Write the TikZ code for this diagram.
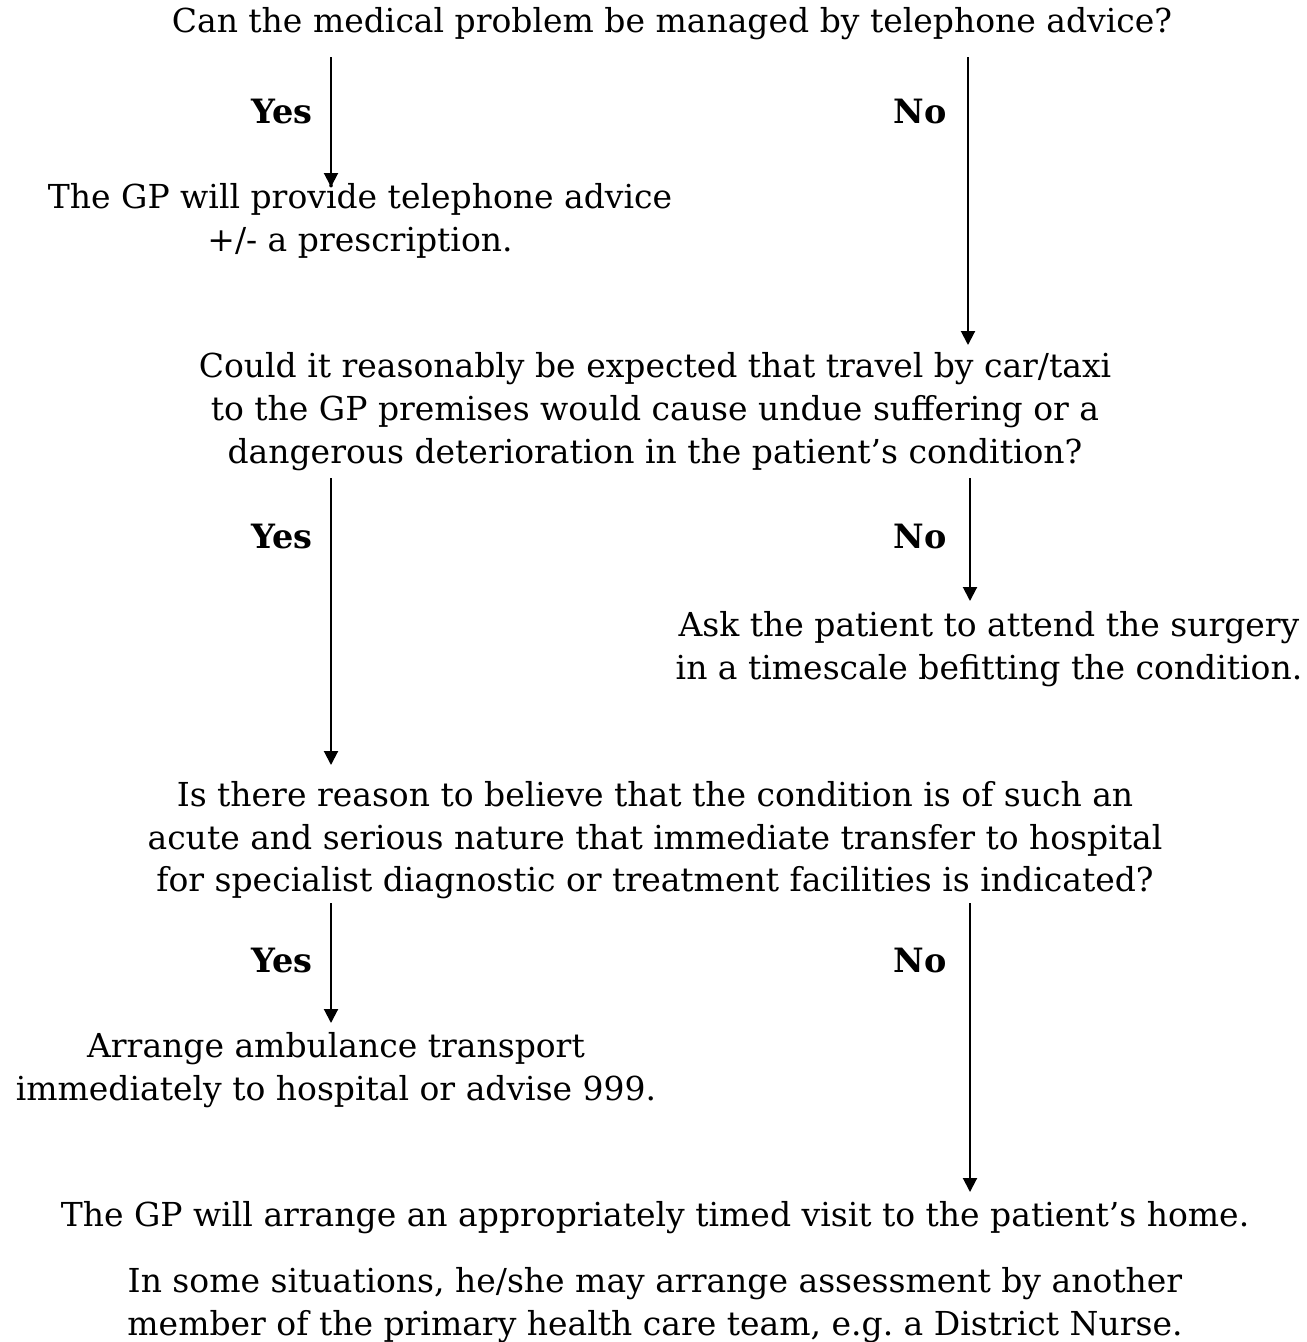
\documentclass[tikz,border=0pt]{standalone}
\usepackage{fontspec}
\setmainfont{DejaVu Serif}
\usetikzlibrary{arrows.meta}
\begin{document}
\begin{tikzpicture}[x=1pt,y=-1pt,
  txt/.style={anchor=base,inner sep=0pt,font=\fontsize{33}{43}\selectfont},
  lbl/.style={anchor=base,inner sep=0pt,font=\fontsize{33.5}{43}\selectfont\bfseries},
  arr/.style={line width=2pt,-{Triangle[width=14pt,length=14pt]}}]
\useasboundingbox[fill=white] (0,0) rectangle (1307,1342);
\node[txt] (q1) at (672,32) {Can the medical problem be managed by telephone advice?};
\node[txt] (a1a) at (360,208) {The GP will provide telephone advice};
\node[txt] (a1b) at (360,251) {+/- a prescription.};
\node[txt] (q2a) at (655,377) {Could it reasonably be expected that travel by car/taxi};
\node[txt] (q2b) at (655,420) {to the GP premises would cause undue suffering or a};
\node[txt] (q2c) at (655,463) {dangerous deterioration in the patient’s condition?};
\node[txt] (a2a) at (989,636) {Ask the patient to attend the surgery};
\node[txt] (a2b) at (989,679) {in a timescale befitting the condition.};
\node[txt] (q3a) at (655,806) {Is there reason to believe that the condition is of such an};
\node[txt] (q3b) at (655,849) {acute and serious nature that immediate transfer to hospital};
\node[txt] (q3c) at (655,891) {for specialist diagnostic or treatment facilities is indicated?};
\node[txt] (a3a) at (336,1057) {Arrange ambulance transport};
\node[txt] (a3b) at (336,1100) {immediately to hospital or advise 999.};
\node[txt] (a4) at (655,1226) {The GP will arrange an appropriately timed visit to the patient’s home.};
\node[txt] (n1) at (655,1292) {In some situations, he/she may arrange assessment by another};
\node[txt] (n2) at (655,1335) {member of the primary health care team, e.g.\ a District Nurse.};
\node[lbl] (y1) at (282,123) {Yes};
\node[lbl] (no1) at (920,123) {No};
\node[lbl] (y2) at (282,548) {Yes};
\node[lbl] (no2) at (920,548) {No};
\node[lbl] (y3) at (282,972) {Yes};
\node[lbl] (no3) at (920,972) {No};
\coordinate (s1) at (331,57); \coordinate (e1) at (331,187);
\coordinate (s2) at (968,57); \coordinate (e2) at (968,345);
\coordinate (s3) at (331,478); \coordinate (e3) at (331,765);
\coordinate (s4) at (970,478); \coordinate (e4) at (970,601);
\coordinate (s5) at (331,903); \coordinate (e5) at (331,1023);
\coordinate (s6) at (970,903); \coordinate (e6) at (970,1192);
\draw[arr] (s1) -- (e1);
\draw[arr] (s2) -- (e2);
\draw[arr] (s3) -- (e3);
\draw[arr] (s4) -- (e4);
\draw[arr] (s5) -- (e5);
\draw[arr] (s6) -- (e6);
\end{tikzpicture}
\end{document}
